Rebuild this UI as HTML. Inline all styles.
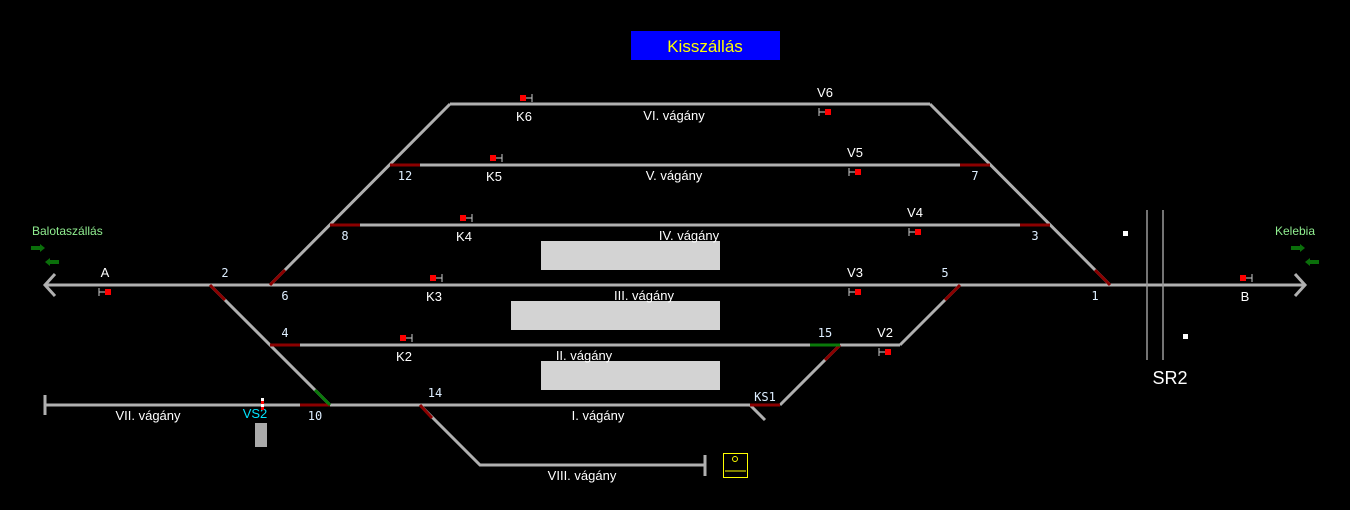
<!DOCTYPE html>
<html><head><meta charset="utf-8"><style>
html,body{margin:0;padding:0;background:#000;width:1350px;height:510px;overflow:hidden}
svg{display:block}
text{font-family:"Liberation Sans","DejaVu Sans",sans-serif;font-size:13px;fill:#fff}
.m{font-family:"DejaVu Sans Mono","Liberation Mono",monospace;font-size:12px;fill:#ddeeff}
</style></head><body>
<svg width="1350" height="510" viewBox="0 0 1350 510">
<rect x="631" y="31" width="149" height="29" fill="#0000ff"/>
<text x="705" y="52" text-anchor="middle" style="font-size:17px;fill:#ffff00">Kisszállás</text>

<g stroke="#b0b0b0" stroke-width="3" fill="none">
<line x1="45" y1="285" x2="1305" y2="285"/>
<polyline points="55,274 45,285 55,296"/>
<polyline points="1295,274 1305,285 1295,296"/>
<line x1="450" y1="104" x2="930" y2="104"/>
<line x1="450" y1="104" x2="270" y2="285"/>
<line x1="930" y1="104" x2="1110" y2="285"/>
<line x1="390" y1="165" x2="990" y2="165"/>
<line x1="330" y1="225" x2="1050" y2="225"/>
<line x1="270" y1="345" x2="900" y2="345"/>
<line x1="210" y1="285" x2="330" y2="405"/>
<line x1="900" y1="345" x2="960" y2="285"/>
<line x1="45" y1="405" x2="780" y2="405"/>
<line x1="780" y1="405" x2="840" y2="345"/>
<line x1="750" y1="405" x2="765" y2="420"/>
<polyline points="420,405 480,465 705,465"/>
<line x1="45" y1="395" x2="45" y2="415"/>
<line x1="705" y1="455" x2="705" y2="476"/>
</g>

<g stroke="#8b0000" stroke-width="3">
<line x1="210" y1="285" x2="225" y2="300"/>
<line x1="270" y1="285" x2="285" y2="270"/>
<line x1="330" y1="225" x2="360" y2="225"/>
<line x1="390" y1="165" x2="420" y2="165"/>
<line x1="960" y1="165" x2="990" y2="165"/>
<line x1="1020" y1="225" x2="1050" y2="225"/>
<line x1="1095" y1="270" x2="1110" y2="285"/>
<line x1="945" y1="300" x2="960" y2="285"/>
<line x1="270" y1="345" x2="300" y2="345"/>
<line x1="300" y1="405" x2="330" y2="405"/>
<line x1="420" y1="405" x2="432" y2="418"/>
<line x1="825" y1="360" x2="840" y2="345"/>
<line x1="750" y1="405" x2="780" y2="405"/>
</g>
<g stroke="#0a7a0a" stroke-width="3">
<line x1="315" y1="390" x2="330" y2="405"/>
<line x1="810" y1="345" x2="840" y2="345"/>
</g>

<rect x="541" y="241" width="179" height="29" fill="#d3d3d3"/>
<rect x="511" y="301" width="209" height="29" fill="#d3d3d3"/>
<rect x="541" y="361" width="179" height="29" fill="#d3d3d3"/>

<g stroke="#999" stroke-width="1.5">
<line x1="1147" y1="210" x2="1147" y2="360"/>
<line x1="1163" y1="210" x2="1163" y2="360"/>
</g>
<text x="1170" y="384" text-anchor="middle" style="font-size:18px">SR2</text>
<rect x="1123" y="231" width="5" height="5" fill="#fff"/>
<rect x="1183" y="334" width="5" height="5" fill="#fff"/>

<g fill="#f00">
<rect x="520" y="95" width="6" height="6"/><rect x="490" y="155" width="6" height="6"/>
<rect x="460" y="215" width="6" height="6"/><rect x="430" y="275" width="6" height="6"/>
<rect x="400" y="335" width="6" height="6"/><rect x="1240" y="275" width="6" height="6"/>
<rect x="825" y="109" width="6" height="6"/><rect x="855" y="169" width="6" height="6"/>
<rect x="915" y="229" width="6" height="6"/><rect x="855" y="289" width="6" height="6"/>
<rect x="885" y="349" width="6" height="6"/><rect x="105" y="289" width="6" height="6"/>
</g>
<g stroke="#ccc" stroke-width="1" fill="none">
<path d="M526,98h6M532,94v8M496,158h6M502,154v8M466,218h6M472,214v8M436,278h6M442,274v8M406,338h6M412,334v8M1246,278h6M1252,274v8"/>
<path d="M825,112h-6M819,108v8M855,172h-6M849,168v8M915,232h-6M909,228v8M855,292h-6M849,288v8M885,352h-6M879,348v8M105,292h-6M99,288v8"/>
</g>

<g text-anchor="middle">
<text x="524" y="121">K6</text><text x="825" y="97">V6</text>
<text x="494" y="181">K5</text><text x="855" y="157">V5</text>
<text x="464" y="241">K4</text><text x="915" y="217">V4</text>
<text x="434" y="301">K3</text><text x="855" y="277">V3</text>
<text x="404" y="361">K2</text><text x="885" y="337">V2</text>
<text x="105" y="277">A</text><text x="1245" y="301">B</text>
<text x="674" y="120">VI. vágány</text>
<text x="674" y="180">V. vágány</text>
<text x="689" y="240">IV. vágány</text>
<text x="644" y="300">III. vágány</text>
<text x="584" y="360">II. vágány</text>
<text x="598" y="420">I. vágány</text>
<text x="148" y="420">VII. vágány</text>
<text x="582" y="480">VIII. vágány</text>
</g>
<g text-anchor="middle">
<text class="m" x="225" y="277">2</text><text class="m" x="285" y="300">6</text>
<text class="m" x="345" y="240">8</text><text class="m" x="405" y="180">12</text>
<text class="m" x="975" y="180">7</text><text class="m" x="1035" y="240">3</text>
<text class="m" x="1095" y="300">1</text><text class="m" x="945" y="277">5</text>
<text class="m" x="285" y="337">4</text><text class="m" x="825" y="337">15</text>
<text class="m" x="315" y="420">10</text><text class="m" x="435" y="397">14</text>
<text class="m" x="765" y="401">KS1</text>
</g>

<text x="32" y="235" style="font-size:12px;fill:#90ee90">Balotaszállás</text>
<text x="1295" y="235" text-anchor="middle" style="font-size:12px;fill:#90ee90">Kelebia</text>
<g fill="#0a6e0a">
<path d="M31,246h9v-2l5,4-5,4v-2h-9z"/>
<path d="M59,260h-9v-2l-5,4 5,4v-2h9z"/>
<path d="M1291,246h9v-2l5,4-5,4v-2h-9z"/>
<path d="M1319,260h-9v-2l-5,4 5,4v-2h9z"/>
</g>

<text x="255" y="418" text-anchor="middle" style="font-size:13px;fill:#00e5ff">VS2</text>
<rect x="255" y="423" width="12" height="24" fill="#aaa"/>
<rect x="261" y="398" width="3" height="12" fill="#fff"/>
<rect x="261" y="401" width="3" height="3" fill="#f00"/>
<rect x="261" y="407" width="3" height="3" fill="#f00"/>

<rect x="723.5" y="453.5" width="24" height="24" fill="none" stroke="#ff0" stroke-width="1"/>
<circle cx="735" cy="459" r="2.5" fill="none" stroke="#ff0" stroke-width="1"/>
<line x1="725" y1="471" x2="746" y2="471" stroke="#ff0" stroke-width="1"/>
</svg>
</body></html>
